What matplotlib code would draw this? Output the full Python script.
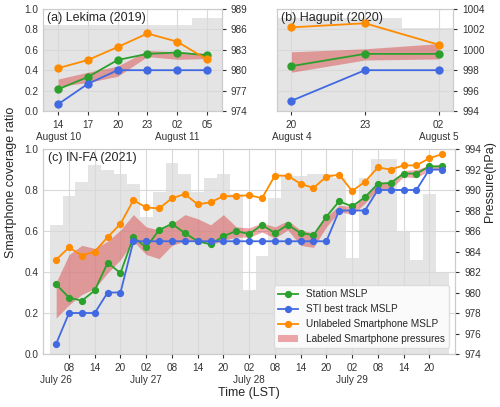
import numpy as np
import matplotlib
matplotlib.use("Agg")
import matplotlib.pyplot as plt
import matplotlib.transforms as mtransforms
from matplotlib.patches import Patch
from matplotlib.lines import Line2D

plt.rcParams.update({
    "font.family": ["Liberation Sans", "DejaVu Sans"],
    "font.size": 7.2,
    "axes.edgecolor": "0.8",
    "axes.linewidth": 0.8,
    "xtick.color": "0.2",
    "ytick.color": "0.2",
    "xtick.labelsize": 7.2,
    "ytick.labelsize": 7.2,
    "xtick.major.size": 3,
    "ytick.major.size": 3,
    "xtick.major.width": 0.8,
    "ytick.major.width": 0.8,
})

C_STATION = "#2ca02c"
C_STI = "royalblue"
C_UNLAB = "darkorange"
C_LAB = "#d62728"

# ---- (a) Lekima (2019): hours counted from August 10 00 LST ----
a_hours = [14, 17, 20, 23, 26, 29]
a_cov = [0.84, 0.84, 0.84, 0.84, 0.84, 0.91]
a_station = [977.2, 979.0, 981.5, 982.4, 982.6, 982.2]
a_sti = [975.0, 978.0, 980.0, 980.0, 980.0, 980.0]
a_unlab = [980.3, 981.5, 983.4, 985.4, 984.2, 981.6]
a_lab_lo = [977.6, 978.2, 979.1, 982.0, 981.6, 981.7]
a_lab_hi = [978.7, 979.7, 980.6, 982.9, 982.7, 982.5]
a_ticklabels = ["14\nAugust 10", "17", "20", "23", "02\nAugust 11", "05"]

# ---- (b) Hagupit (2020): hours counted from August 4 00 LST ----
b_hours = [20, 23, 26]
b_cov = [0.91, 0.91, 0.81]
b_station = [998.4, 999.6, 999.6]
b_sti = [995.0, 998.0, 998.0]
b_unlab = [1002.2, 1002.6, 1000.5]
b_lab_lo = [997.8, 999.0, 999.1]
b_lab_hi = [999.8, 1000.1, 1000.6]
b_ticklabels = ["20\nAugust 4", "23", "02\nAugust 5"]

# ---- (c) IN-FA (2021): hours counted from July 26 00 LST, 3-hourly ----
c_hours = np.arange(5, 96, 3)
c_cov = [0.63, 0.77, 0.84, 0.92, 0.90, 0.88, 0.83, 0.67, 0.79, 0.93, 0.88,
         0.79, 0.86, 0.88, 0.78, 0.31, 0.48, 0.76, 0.87, 0.87, 0.88, 0.88,
         0.86, 0.47, 0.86, 0.95, 0.95, 0.60, 0.46, 0.78, 0.40]
c_station = [980.8, 979.5, 979.2, 980.2, 982.9, 981.9, 985.4, 984.4, 986.1, 986.7,
             985.8, 985.0, 984.7, 985.5, 986.0, 985.7, 986.6, 985.8, 986.6, 985.8,
             985.6, 987.4, 988.9, 988.4, 989.3, 990.6, 990.7, 991.6, 991.6, 992.3, 992.3]
c_sti = [975, 978, 978, 978, 980, 980, 985, 985, 985, 985, 985, 985, 985, 985, 985,
         985, 985, 985, 985, 985, 985, 985, 988, 988, 988, 990, 990, 990, 990, 992, 992]
c_unlab = [983.2, 984.4, 983.6, 984.0, 985.4, 986.7, 989.0, 988.3, 988.2, 989.2,
           989.6, 988.6, 988.8, 989.4, 989.4, 989.5, 989.2, 991.4, 991.4, 990.6,
           990.2, 991.3, 991.5, 989.9, 990.8, 992.2, 992.0, 992.4, 992.4, 993.1, 993.5]
c_lab_lo = [977.5, 978.8, 979.8, 980.4, 981.9, 983.2, 985.0, 983.7, 983.3, 984.6,
            985.0, 985.1, 984.6, 985.1, 985.4, 985.4, 985.9, 985.3, 986.1, 984.6,
            984.4, 986.4, 987.9, 987.6, 988.7, 990.1, 990.1, 991.3, 991.2, 991.9, 992.0]
c_lab_hi = [981.0, 983.7, 984.6, 984.3, 985.0, 986.1, 987.6, 986.4, 986.1, 986.7,
            987.6, 987.2, 986.6, 987.6, 986.4, 986.3, 986.8, 986.4, 987.0, 986.1,
            985.8, 987.4, 988.5, 988.4, 989.3, 990.8, 990.7, 991.9, 992.0, 992.4, 992.5]
c_ticks = [8, 14, 20, 26, 32, 38, 44, 50, 56, 62, 68, 74, 80, 86, 92]
c_ticklabels = ["08", "14", "20", "02\nJuly 27", "08", "14", "20", "02\nJuly 28",
                "08", "14", "20", "02\nJuly 29", "08", "14", "20"]
c_first_day = "July 26"


def panel(ax, hours, cov, station, sti, unlab, lo, hi, xlim, plim, pstep, ms, title, tx, ty):
    ax.bar(hours, cov, width=3, color="lightgray", alpha=0.6, linewidth=0, zorder=1)
    ax.set_ylim(0, 1)
    ax.set_yticks(np.arange(0, 1.01, 0.2))
    ax.set_xlim(xlim)
    ax.set_axisbelow(False)
    ax.grid(color="0.85", linewidth=0.8, zorder=2)
    ax.tick_params(axis="y", length=0)
    ax2 = ax.twinx()
    ax2.fill_between(hours, lo, hi, color=C_LAB, alpha=0.4, linewidth=0)
    ax2.plot(hours, station, "-o", color=C_STATION, lw=1.3, ms=ms)
    ax2.plot(hours, sti, "-o", color=C_STI, lw=1.3, ms=ms)
    ax2.plot(hours, unlab, "-o", color=C_UNLAB, lw=1.3, ms=ms)
    ax2.set_ylim(plim)
    ax2.set_yticks(np.arange(plim[0], plim[1] + 0.1, pstep))
    ax2.grid(False)
    for s in ax2.spines.values():
        s.set_color("0.8")
    ax.text(tx, ty, title, transform=ax.transAxes, fontsize=9, color="0.15", va="center")
    return ax2


fig = plt.figure(figsize=(5, 4.07), dpi=100)
axa = fig.add_axes([0.0866, 0.7273, 0.3568, 0.2506])
axb = fig.add_axes([0.5534, 0.7273, 0.3532, 0.2506])
axc = fig.add_axes([0.0866, 0.1302, 0.8234, 0.5037])

panel(axa, a_hours, a_cov, a_station, a_sti, a_unlab, a_lab_lo, a_lab_hi,
      (12.5, 30.5), (974, 989), 3, 5, "(a) Lekima (2019)", 0.022, 0.91)
axa.set_xticks(a_hours)
axa.set_xticklabels(a_ticklabels)

panel(axb, b_hours, b_cov, b_station, b_sti, b_unlab, b_lab_lo, b_lab_hi,
      (19.4, 26.6), (994, 1004), 2, 5, "(b) Hagupit (2020)", 0.023, 0.91)
axb.set_xticks(b_hours)
axb.set_xticklabels(b_ticklabels)
axb.set_yticklabels([])

axc2 = panel(axc, c_hours, c_cov, c_station, c_sti, c_unlab, c_lab_lo, c_lab_hi,
             (2, 98), (974, 994), 2, 4.2, "(c) IN-FA (2021)", 0.012, 0.955)
axc.set_xticks(c_ticks)
axc.set_xticklabels(c_ticklabels)
# date of the first (untick'd) 05 LST point, on the second label line
trans = mtransforms.offset_copy(
    mtransforms.blended_transform_factory(axc.transData, axc.transAxes),
    fig=fig, y=-15.2, units="points")
axc.text(c_hours[0], 0, c_first_day, transform=trans, ha="center", va="top",
         fontsize=7.2, color="0.2")
axc.set_xlabel("Time (LST)", fontsize=9, color="0.15", labelpad=2)

handles = [
    Line2D([], [], color=C_STATION, marker="o", lw=1.3, ms=4.2),
    Line2D([], [], color=C_STI, marker="o", lw=1.3, ms=4.2),
    Line2D([], [], color=C_UNLAB, marker="o", lw=1.3, ms=4.2),
    Patch(facecolor=C_LAB, alpha=0.4, linewidth=0),
]
labels = ["Station MSLP", "STI best track MSLP", "Unlabeled Smartphone MSLP",
          "Labeled Smartphone pressures"]
leg = axc2.legend(handles, labels, loc="lower right", fontsize=7.2, frameon=True,
                  framealpha=0.85, edgecolor="0.85", borderaxespad=0.6,
                  labelspacing=0.5, handletextpad=0.8)
for t in leg.get_texts():
    t.set_color("0.15")

fig.text(0.022, 0.553, "Smartphone coverage ratio", rotation=90, fontsize=9,
         color="0.15", ha="center", va="center")
fig.text(0.98, 0.553, "Pressure(hPa)", rotation=90, fontsize=9,
         color="0.15", ha="center", va="center")

fig.savefig("out.png", dpi=100)
